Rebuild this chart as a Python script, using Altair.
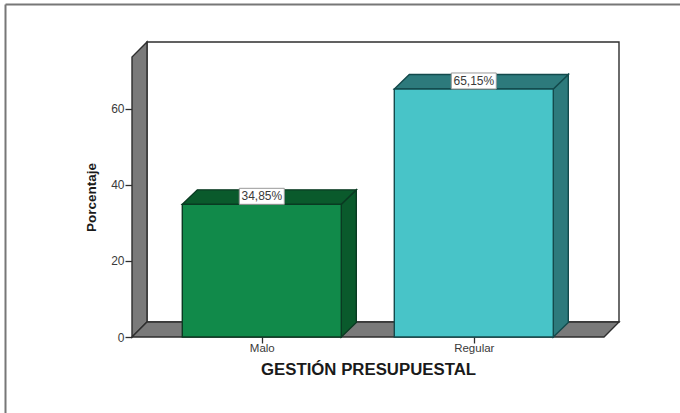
import altair as alt
import pandas as pd

# Survey result: share of respondents per budget-management rating
categories = ["Malo", "Regular"]
values = [34.85, 65.15]
value_labels = ["34,85%", "65,15%"]
y_ticks = [0, 20, 40, 60]

FRONT_FILL = ["#118a4a", "#48c4c8"]
SIDE_FILL = ["#0a5a2c", "#2d7a7c"]
EDGE = ["#0a3a22", "#134a4c"]
WALL = "#7a7a7a"
WALL_EDGE = "#2e2e2e"
TEXT = "#3a3a3a"

# Drawing sizes in pixels; data ranges are derived from them
PLOT_W, PLOT_H = 472, 280
PAD_L, PAD_T = 132, 57
PX_PER_CAT = 212
PX_PER_PCT = 3.807
X_MIN = -(261.8 - PAD_L) / PX_PER_CAT
X_MAX = X_MIN + PLOT_W / PX_PER_CAT
Y_MAX = PLOT_H / PX_PER_PCT
DX = 15 / PX_PER_CAT
DY = 15 / PX_PER_PCT
BAR_DX = 15 / PX_PER_CAT
BAR_DY = 14.5 / PX_PER_PCT
BAR_HALF = 79.5 / PX_PER_CAT
BOX_HALF = 22.5 / PX_PER_CAT
BOX_H = 16 / PX_PER_PCT

x_scale = alt.Scale(domain=[X_MIN, X_MAX], nice=False, zero=False)
y_scale = alt.Scale(domain=[0, Y_MAX], nice=False, zero=False)

# Every layer shares one axis definition so Vega-Lite keeps the merged axes
label_expr = "[" + ",".join(f"'{c}'" for c in categories) + "][datum.value]"
x_axis = alt.Axis(
    values=list(range(len(categories))), labelExpr=label_expr, title="GESTIÓN PRESUPUESTAL",
    domain=False, grid=False, tickColor=WALL_EDGE, tickSize=6, tickWidth=1.3,
    labelFont="Liberation Sans", labelFontSize=11.5, labelColor=TEXT, labelPadding=-1,
    titleFont="Liberation Sans", titleFontSize=16.8, titleFontWeight="bold", titleColor="#1a1a1a",
    titlePadding=8,
)
y_axis = alt.Axis(
    values=y_ticks, title="Porcentaje",
    domain=False, grid=False, tickColor=WALL_EDGE, tickSize=7, tickWidth=1.3,
    labelFont="Liberation Sans", labelFontSize=12, labelColor=TEXT, labelPadding=1,
    titleFont="Liberation Sans", titleFontSize=13.5, titleFontWeight="bold", titleColor="#1a1a1a",
    titlePadding=12,
)


def X(field):
    return alt.X(field, scale=x_scale, axis=x_axis)


def Y(field):
    return alt.Y(field, scale=y_scale, axis=y_axis)


def flat_face(x0, x1, y, dx, dy):
    """Receding horizontal parallelogram, expressed as area rows."""
    return pd.DataFrame({
        "x": [x0, x0 + dx, x1, x1 + dx],
        "lo": [y, y, y, y + dy],
        "hi": [y, y + dy, y + dy, y + dy],
    })


def side_face(x, y_lo, y_hi, dx, dy):
    """Receding vertical parallelogram, expressed as area rows."""
    return pd.DataFrame({
        "x": [x, x + dx],
        "lo": [y_lo, y_lo + dy],
        "hi": [y_hi, y_hi + dy],
    })


def face(df, fill, edge, width=1.4):
    return alt.Chart(df).mark_area(
        fill=fill, stroke=edge, strokeWidth=width, strokeJoin="miter", opacity=1
    ).encode(x=X("x:Q"), y=Y("lo:Q"), y2="hi:Q")


# Page frame: only the top and left edges are visible
frame = alt.Chart(pd.DataFrame({"k": [0]})).mark_rule(color="#777777", strokeWidth=2).encode(
    x=alt.value(5.5 - PAD_L), x2=alt.value(700), y=alt.value(4.5 - PAD_T)
)
frame_left = alt.Chart(pd.DataFrame({"k": [0]})).mark_rule(color="#777777", strokeWidth=2).encode(
    x=alt.value(5.5 - PAD_L), y=alt.value(4.5 - PAD_T), y2=alt.value(420)
)

back_wall = alt.Chart(pd.DataFrame({
    "x": [X_MIN + DX], "x2": [X_MAX + DX], "y": [DY], "y2": [Y_MAX + DY]
})).mark_rect(fill="white", stroke=WALL_EDGE, strokeWidth=1.4).encode(
    x=X("x:Q"), x2="x2:Q", y=Y("y:Q"), y2="y2:Q",
)
left_wall = face(side_face(X_MIN, 0, Y_MAX, DX, DY), WALL, WALL_EDGE)
floor = face(flat_face(X_MIN, X_MAX, 0, DX, DY), WALL, WALL_EDGE)

layers = [frame, frame_left, back_wall, left_wall, floor]

# Each bar: front rectangle plus receding top and side faces
for i, v in enumerate(values):
    x0, x1 = i - BAR_HALF, i + BAR_HALF
    layers.append(face(side_face(x1, 0, v, BAR_DX, BAR_DY), SIDE_FILL[i], EDGE[i]))
    layers.append(face(flat_face(x0, x1, v, BAR_DX, BAR_DY), SIDE_FILL[i], EDGE[i]))

bars = pd.DataFrame({
    "pos": list(range(len(values))),
    "x0": [i - BAR_HALF for i in range(len(values))],
    "x1": [i + BAR_HALF for i in range(len(values))],
    "value": values,
    "base": [0] * len(values),
    "cat": categories,
    "box_l": [i - BOX_HALF for i in range(len(values))],
    "box_r": [i + BOX_HALF for i in range(len(values))],
    "box_top": [v + BOX_H for v in values],
    "mid": [v + BOX_H / 2 for v in values],
    "label": value_labels,
})

front = alt.Chart(bars).mark_rect(strokeWidth=1.4).encode(
    x=X("x0:Q"), x2="x1:Q",
    y=Y("value:Q"), y2="base:Q",
    fill=alt.Fill("cat:N", scale=alt.Scale(domain=categories, range=FRONT_FILL), legend=None),
    stroke=alt.Stroke("cat:N", scale=alt.Scale(domain=categories, range=EDGE), legend=None),
)

boxes = alt.Chart(bars).mark_rect(fill="white", stroke="#9a9a9a", strokeWidth=1).encode(
    x=X("box_l:Q"), x2="box_r:Q",
    y=Y("value:Q"), y2="box_top:Q",
)

labels = alt.Chart(bars).mark_text(
    font="Liberation Sans", fontSize=12, color=TEXT
).encode(x=X("pos:Q"), y=Y("mid:Q"), text="label:N")

layers += [front, boxes, labels]

chart = alt.layer(*layers).properties(
    width=PLOT_W,
    height=PLOT_H,
    autosize=alt.AutoSizeParams(type="none"),
    padding={"left": PAD_L, "top": PAD_T, "right": 680 - PAD_L - PLOT_W, "bottom": 413 - PAD_T - PLOT_H},
    background="white",
).configure_view(stroke=None)

chart.save("out.html", embed_options={"renderer": "svg", "actions": False})
